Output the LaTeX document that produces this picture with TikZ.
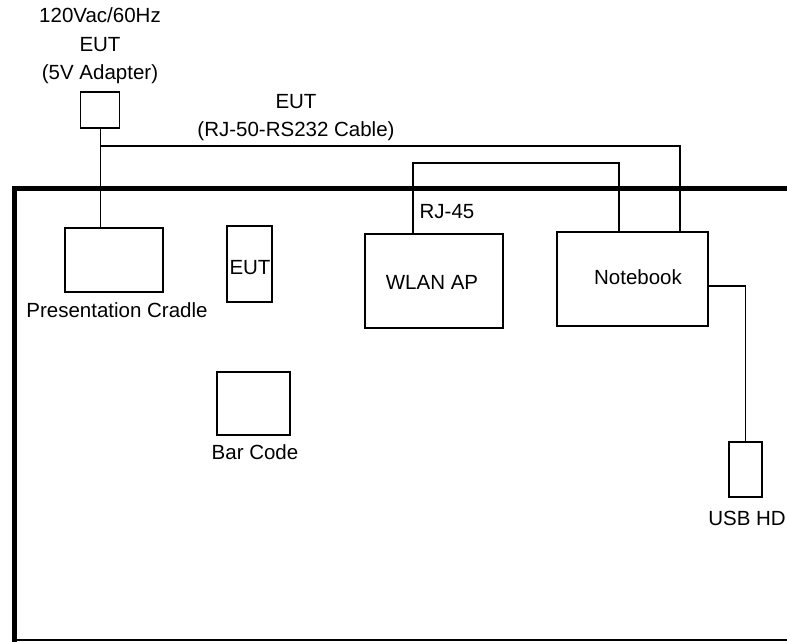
\documentclass[tikz,border=0pt]{standalone}
\usepackage{fontspec}
\setmainfont{Liberation Sans}
\usetikzlibrary{positioning}
\tikzset{
  unit/.style={draw, line width=1.6pt, inner sep=0pt, rectangle},
  tag/.style={inner sep=0pt, align=center, font=\fontsize{20.5}{28.5}\selectfont},
  wire/.style={line width=1.6pt},
  wall/.style={line width=5.5pt}
}
\begin{document}
\begin{tikzpicture}[x=1pt, y=-1pt]
      \useasboundingbox (0,0) rectangle (787,642);
      % room outline
      \draw[wall] (787,188.5) -- (14.5,188.5) -- (14.5,642);
      \draw[line width=2pt] (14.5,640) -- (787,640);
      % equipment
      \draw
        (100,110) node[unit, minimum width=39pt, minimum height=36pt] (adapter){}
        (114,260) node[unit, minimum width=98pt, minimum height=64pt] (cradle){}
        (249.5,264) node[unit, minimum width=45pt, minimum height=76pt] (eut){}
        (253.5,403.5) node[unit, minimum width=73pt, minimum height=63pt] (barcode){}
        (434,281) node[unit, minimum width=138pt, minimum height=94pt] (wlan){}
        (632.5,279) node[unit, minimum width=151pt, minimum height=94pt] (notebook){}
        (745.5,469.5) node[unit, minimum width=33pt, minimum height=55pt] (usbhd){};
      % texts
      \draw
        (100,45.75) node[tag] (supply){120Vac/60Hz\\EUT\\(5V Adapter)}
        (296,117.5) node[tag] (cable){EUT\\(RJ-50-RS232 Cable)}
        (447,212) node[tag] (rj){RJ-45}
        (117,310) node[tag] (cradletxt){Presentation Cradle}
        (250,268) node[tag] (euttxt){EUT}
        (255,452) node[tag] (barcodetxt){Bar Code}
        (432,282) node[tag] (wlantxt){WLAN AP}
        (638,277) node[tag] (notebooktxt){Notebook}
        (747,518) node[tag] (usbhdtxt){USB HD};
      \coordinate (tap) at (100.5,146);
      \begin{scope}[wire]
        \draw ([xshift=0.5pt]adapter.south) -- ([xshift=0.5pt]adapter.south |- cradle.north);
        \draw (tap) -| ([xshift=47.5pt]notebook.north);
        \draw ([xshift=-21pt]wlan.north) -- ++(0,-70) -| ([xshift=-13.5pt]notebook.north);
        \draw ([yshift=-7pt]notebook.east) -| (usbhd.north);
      \end{scope}
    \end{tikzpicture}
\end{document}
